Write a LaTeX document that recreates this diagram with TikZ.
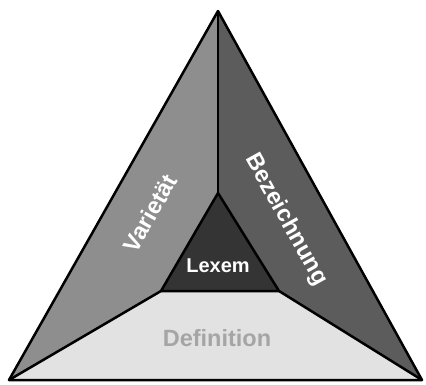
\documentclass[tikz,border=0pt]{standalone}
\usepackage{fontspec}
\setmainfont{Liberation Sans}
\begin{document}
\begin{tikzpicture}[x=1pt,y=-1pt,
  edge/.style={draw=black,line width=2.5pt,line join=round},
  lbl/.style={font=\bfseries\fontsize{23.5}{24}\selectfont,inner sep=0pt,anchor=center},
  core/.style={font=\bfseries\fontsize{20}{20}\selectfont,inner sep=0pt,anchor=center}]
\useasboundingbox (0,0) rectangle (426,384);
% outer and inner corners
\coordinate (A) at (218,11);
\coordinate (B) at (9,380);
\coordinate (C) at (422,380);
\coordinate (a) at (218,193);
\coordinate (b) at (161,291);
\coordinate (c) at (279,291);
% faces
\fill[fill={rgb,255:red,142;green,142;blue,142}] (A) -- (B) -- (b) -- (a) -- cycle;
\fill[fill={rgb,255:red,92;green,92;blue,92}] (A) -- (a) -- (c) -- (C) -- cycle;
\fill[fill={rgb,255:red,226;green,226;blue,226}] (B) -- (C) -- (c) -- (b) -- cycle;
\fill[fill={rgb,255:red,52;green,52;blue,52}] (a) -- (b) -- (c) -- cycle;
% edges
\draw[edge] (A) -- (B) -- (C) -- cycle;
\draw[edge] (a) -- (b) -- (c) -- cycle;
\draw[edge] (A) -- (a);
\draw[edge] (B) -- (b);
\draw[edge] (C) -- (c);
% labels
\node[core,text=white] (lexem) at (218,266) {Lexem};
\node[lbl,text=white,rotate=60.5] (varietaet) at (150,213) {Varietät};
\node[lbl,text=white,rotate=-61] (bezeichnung) at (286,220) {Bezeichnung};
\node[lbl,text={rgb,255:red,165;green,165;blue,165}] (definition) at (217,338) {Definition};
\end{tikzpicture}
\end{document}
